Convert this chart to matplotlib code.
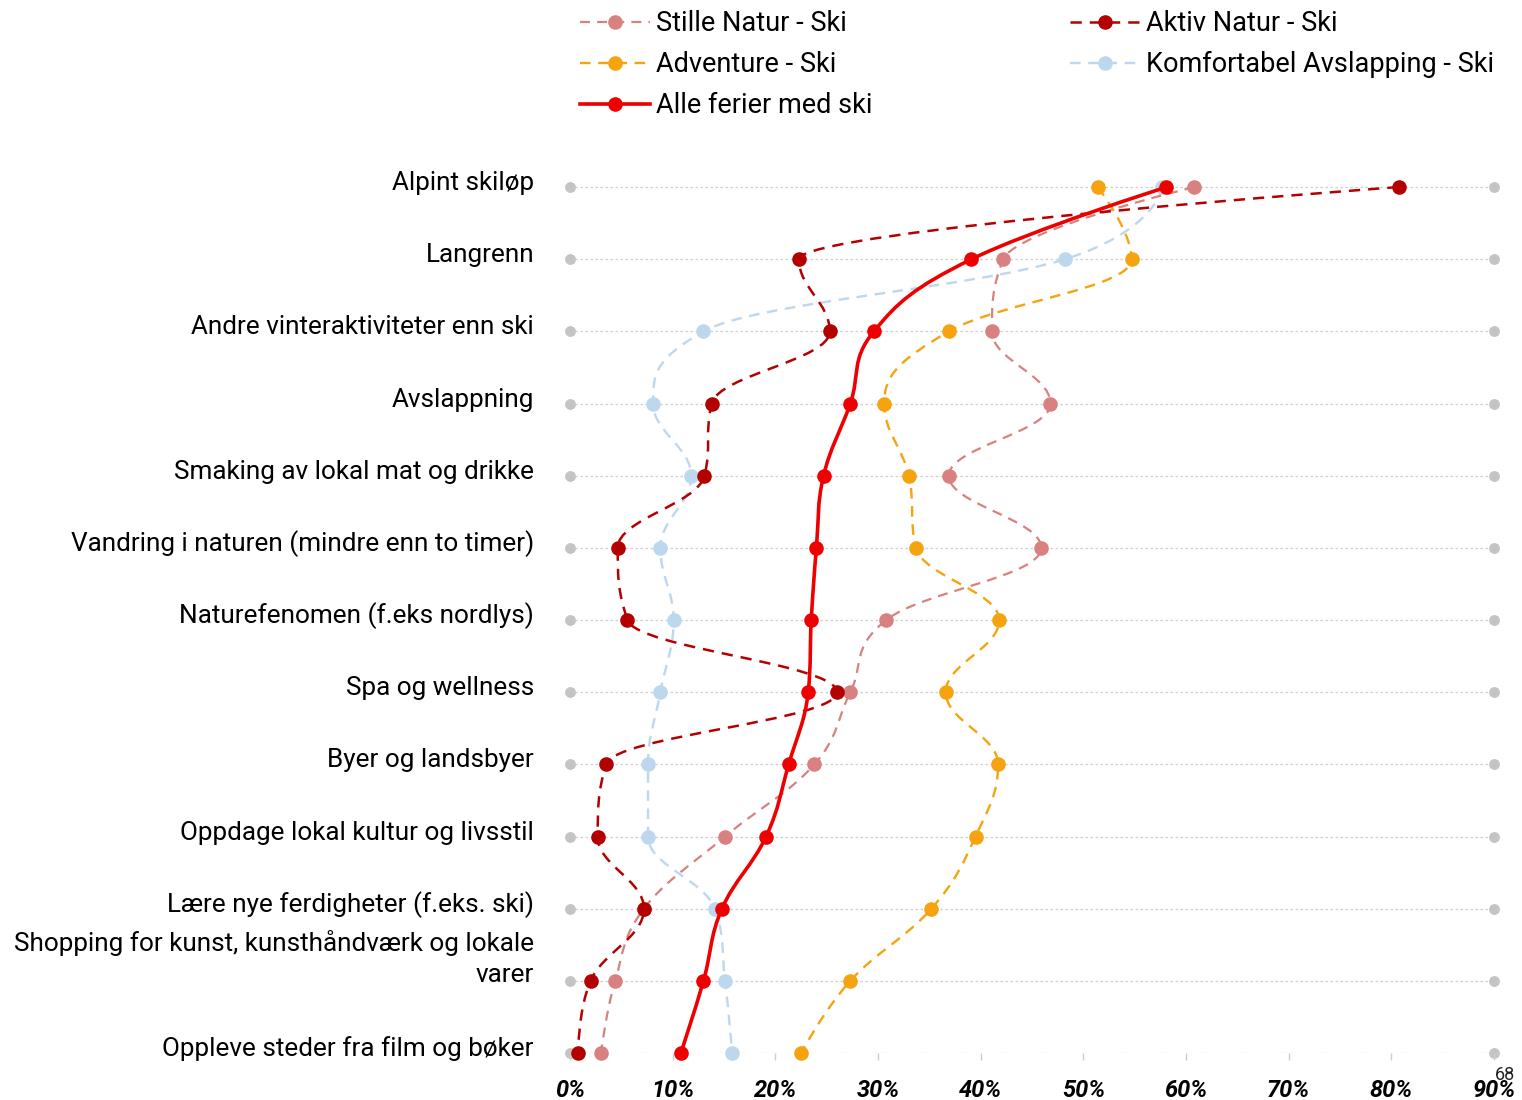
import numpy as np
import matplotlib
matplotlib.use("Agg")
import matplotlib.pyplot as plt
from matplotlib.path import Path
from matplotlib.patches import PathPatch
from matplotlib.lines import Line2D
from matplotlib.transforms import offset_copy

plt.rcParams['font.family'] = ['Roboto', 'DejaVu Sans']

categories = [
    "Alpint skiløp",
    "Langrenn",
    "Andre vinteraktiviteter enn ski",
    "Avslappning",
    "Smaking av lokal mat og drikke",
    "Vandring i naturen (mindre enn to timer)",
    "Naturefenomen (f.eks nordlys)",
    "Spa og wellness",
    "Byer og landsbyer",
    "Oppdage lokal kultur og livsstil",
    "Lære nye ferdigheter (f.eks. ski)",
    "Shopping for kunst, kunsthåndværk og lokale\nvarer",
    "Oppleve steder fra film og bøker",
]

stille_natur = [60.8, 42.2, 41.1, 46.8, 36.9, 45.9, 30.8, 27.3, 23.8, 15.1, 7.2, 4.4, 3.0]
aktiv_natur = [80.7, 22.3, 25.3, 13.8, 13.1, 4.65, 5.6, 26.0, 3.5, 2.7, 7.2, 2.0, 0.8]
adventure = [51.4, 54.7, 36.9, 30.6, 33.0, 33.7, 41.8, 36.6, 41.7, 39.5, 35.2, 27.3, 22.5]
komfortabel = [57.7, 48.2, 13.0, 8.1, 11.8, 8.8, 10.1, 8.8, 7.6, 7.6, 14.1, 15.1, 15.8]
alle = [58.1, 39.1, 29.6, 27.3, 24.7, 24.0, 23.5, 23.2, 21.3, 19.1, 14.8, 13.0, 10.8]

series_names = ["Stille Natur - Ski", "Aktiv Natur - Ski", "Adventure - Ski",
                "Komfortabel Avslapping - Ski", "Alle ferier med ski"]
x_ticks = list(range(0, 100, 10))
x_tick_labels = [f"{t}%" for t in x_ticks]
axis_ends = [0, 90]


def hc_spline_path(vals, smoothing=1.5):
    """Highcharts-style spline; 'x' of the algorithm is the category index."""
    n = len(vals)
    px = np.arange(n, dtype=float)
    py = np.asarray(vals, dtype=float)
    left = [(px[i], py[i]) for i in range(n)]
    right = [(px[i], py[i]) for i in range(n)]
    denom = smoothing + 1
    for i in range(1, n - 1):
        lx, ly = px[i - 1], py[i - 1]
        nx, ny = px[i + 1], py[i + 1]
        X, Y = px[i], py[i]
        lcx = (smoothing * X + lx) / denom
        lcy = (smoothing * Y + ly) / denom
        rcx = (smoothing * X + nx) / denom
        rcy = (smoothing * Y + ny) / denom
        if rcx != lcx:
            corr = ((rcy - lcy) * (rcx - X)) / (rcx - lcx) + Y - rcy
            lcy += corr
            rcy += corr
        if lcy > ly and lcy > Y:
            lcy = max(ly, Y)
            rcy = 2 * Y - lcy
        elif lcy < ly and lcy < Y:
            lcy = min(ly, Y)
            rcy = 2 * Y - lcy
        if rcy > ny and rcy > Y:
            rcy = max(ny, Y)
            lcy = 2 * Y - rcy
        elif rcy < ny and rcy < Y:
            rcy = min(ny, Y)
            lcy = 2 * Y - rcy
        left[i] = (lcx, lcy)
        right[i] = (rcx, rcy)
    verts = [(py[0], px[0])]
    codes = [Path.MOVETO]
    for i in range(1, n):
        c1 = right[i - 1]
        c2 = left[i]
        verts += [(c1[1], c1[0]), (c2[1], c2[0]), (py[i], px[i])]
        codes += [Path.CURVE4] * 3
    return Path(verts, codes)


fig = plt.figure(figsize=(15.22, 11), dpi=100)
W, H = 1522, 1100
ax_left, ax_right, ax_top, ax_bottom = 570, 1494, 151, 1053
ax = fig.add_axes([ax_left / W, (H - ax_bottom) / H, (ax_right - ax_left) / W, (ax_bottom - ax_top) / H])
n = len(categories)
rows = np.arange(n)
ax.set_xlim(0, 90)
ax.set_ylim(n - 1, -0.5)

for s in ax.spines.values():
    s.set_visible(False)

# dotted row gridlines
ax.hlines(rows, 0, 90, colors='#cfcfcf', linestyles=(0, (2, 2)), linewidth=0.9, zorder=0)
# gray end dots
for e in axis_ends:
    ax.plot([e] * n, rows, 'o', color='#c4c4c4', markersize=6.8, zorder=1, clip_on=False)

styles = [
    (stille_natur, '#d98080', (0, (4.5, 3.2)), 1.6, 3),
    (aktiv_natur, '#b30000', (0, (4.5, 3.2)), 1.8, 4),
    (adventure, '#f5a30f', (0, (4.5, 3.2)), 1.7, 5),
    (komfortabel, '#bdd7ee', (0, (4.5, 3.2)), 1.7, 2),
    (alle, '#ee0000', '-', 2.6, 6),
]
handles = []
for (vals, col, ls, lw, z), name in zip(styles, series_names):
    patch = PathPatch(hc_spline_path(vals), facecolor='none', edgecolor=col, linestyle=ls,
                      linewidth=lw, zorder=z, clip_on=False, capstyle='butt')
    ax.add_patch(patch)
    ax.plot(vals, rows, 'o', color=col, markersize=10.5, zorder=z + 0.5, clip_on=False,
            markeredgewidth=0)
    handles.append(Line2D([0], [0], color=col, linestyle=ls, linewidth=lw, marker='o',
                          markersize=10.5, markeredgewidth=0))

# x axis
ax.set_xticks(x_ticks)
ax.set_xticklabels(x_tick_labels, fontsize=17, fontweight='bold', fontstyle='italic',
                   family=['Liberation Sans Narrow', 'Roboto', 'DejaVu Sans'])
ax.tick_params(axis='x', length=5, width=1, color='#cccccc', pad=14)
ax.set_yticks([])

# category labels
ytr = offset_copy(ax.get_yaxis_transform(), fig=fig, x=-36, y=4, units='dots')
for i, c in enumerate(categories):
    yoff = -0.25 if "\n" in c else 0.0
    ax.text(0, i + yoff, c, transform=ytr, ha='right', va='center', fontsize=18.8,
            color='#000000', linespacing=1.38)

# legend (column-major order)
order = [0, 2, 4, 1, 3]
leg = fig.legend([handles[i] for i in order], [series_names[i] for i in order],
                 ncol=2, loc='upper left', bbox_to_anchor=(580 / W, 1 - 10 / H),
                 frameon=False, fontsize=19.5, handlelength=2.58, handletextpad=0.22,
                 columnspacing=7.3, labelspacing=0.52, borderaxespad=0, borderpad=0)

fig.text(1505 / W, 1 - 1075 / H, "68", fontsize=13, color='#222222', ha='center', va='center')

fig.savefig("out.png", dpi=100)
